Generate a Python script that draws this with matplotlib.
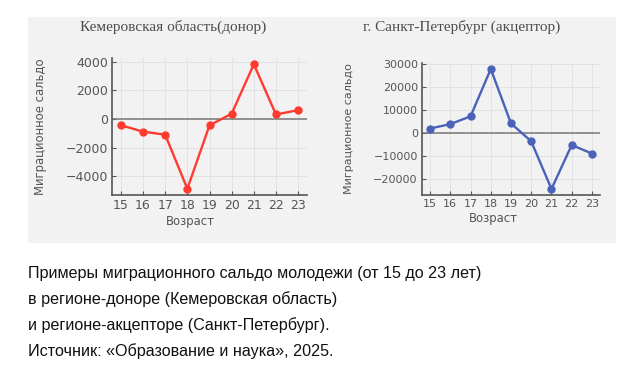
import matplotlib
matplotlib.use("Agg")
import matplotlib.pyplot as plt
from matplotlib.patches import Rectangle

# --- data ---
ages = [15, 16, 17, 18, 19, 20, 21, 22, 23]
kemerovo = [-430, -880, -1090, -4860, -440, 370, 3820, 320, 620]
spb = [1760, 3680, 7060, 27650, 3970, -3820, -24560, -5440, -9120]

kem_yticks = [-4000, -2000, 0, 2000, 4000]
spb_yticks = [-20000, -10000, 0, 10000, 20000, 30000]

title_kem = "Кемеровская область(донор)"
title_spb = "г. Санкт-Петербург (акцептор)"
ylabel = "Миграционное сальдо"
xlabel = "Возраст"
caption = [
    "Примеры миграционного сальдо молодежи (от 15 до 23 лет)",
    "в регионе-доноре (Кемеровская область)",
    "и регионе-акцепторе (Санкт-Петербург).",
    "Источник: «Образование и наука», 2025.",
]

W, H = 624, 369
fig = plt.figure(figsize=(W / 100, H / 100), dpi=100)
fig.patch.set_facecolor("white")

# grey panel behind both charts
fig.patches.append(Rectangle((28 / W, 1 - 243 / H), (616 - 28) / W, (243 - 17) / H,
                             transform=fig.transFigure, facecolor="#f2f2f2",
                             edgecolor="none", zorder=-5))

def px_axes(x0, y0, x1, y1):
    return fig.add_axes([x0 / W, 1 - y1 / H, (x1 - x0) / W, (y1 - y0) / H])

def style(ax, y, yticks, color, title, tick_fs, lab_fs, lab_pad, title_x):
    ax.set_facecolor("#f2f2f2")
    ax.plot(ages, y, color=color, marker="o", markersize=5, linewidth=1.7, zorder=3)
    ax.axhline(0, color="#777777", linewidth=1.1, zorder=2)
    ax.set_xticks(ages)
    ax.set_yticks(yticks)
    ax.grid(True, color="#e0e0e0", linewidth=0.6)
    for s in ["top", "right"]:
        ax.spines[s].set_visible(False)
    for s in ["left", "bottom"]:
        ax.spines[s].set_color("#555555")
        ax.spines[s].set_linewidth(1.2)
    ax.tick_params(direction="in", length=3, color="#555555", labelcolor="#555555",
                   labelsize=tick_fs, pad=3)
    ax.set_xlabel(xlabel, fontsize=8.4, color="#555555", labelpad=2, x=0.4)
    ax.set_ylabel(ylabel, fontsize=lab_fs, color="#555555", labelpad=lab_pad)
    fig.text(title_x / W, 1 - 27 / H, title, ha="center", va="center",
             family="Liberation Serif", fontsize=11, color="#4d4d4d")

ax1 = px_axes(112, 58, 307, 195)
style(ax1, kemerovo, kem_yticks, "#ff3b30", title_kem, 9, 8.4, 13, 173)

ax2 = px_axes(422, 63, 600, 195)
style(ax2, spb, spb_yticks, "#4a62b8", title_spb, 8, 8, 14, 462)

for i, line in enumerate(caption):
    fig.text(28 / W, 1 - (278 + 26 * i) / H, line, ha="left", va="baseline",
             family="Liberation Sans", fontsize=11.6, color="#111111")

fig.savefig("out.png", dpi=100)
